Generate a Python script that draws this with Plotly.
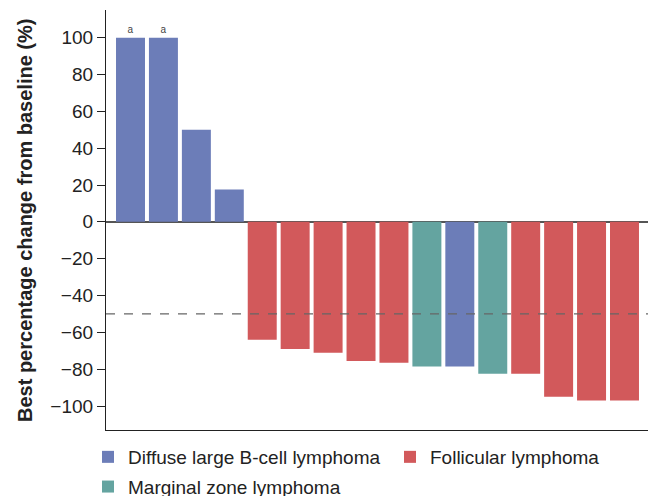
import plotly.graph_objects as go

# Data
patients = list(range(16))
best_change = [100, 100, 50, 17.5, -64, -69, -71, -75.5, -76.5, -78.5, -78.5, -82.5, -82.5, -95, -97, -97]
subtype = ["DLBCL"] * 4 + ["FL"] * 5 + ["MZL", "DLBCL", "MZL"] + ["FL"] * 4
flags = ["a", "a"] + [""] * 14

groups = ["DLBCL", "FL", "MZL"]
group_names = {
    "DLBCL": "Diffuse large B-cell lymphoma",
    "FL": "Follicular lymphoma",
    "MZL": "Marginal zone lymphoma",
}
group_colors = {"DLBCL": "#6C7DB8", "FL": "#D2595B", "MZL": "#64A4A0"}
group_legend = {"DLBCL": "legend", "FL": "legend2", "MZL": "legend"}
y_ticks = [-100, -80, -60, -40, -20, 0, 20, 40, 60, 80, 100]
y_title = "Best percentage change from baseline (%)"
threshold = -50

fig = go.Figure()
for g in groups:
    idx = [i for i, s in enumerate(subtype) if s == g]
    fig.add_trace(go.Bar(
        x=[patients[i] for i in idx],
        y=[best_change[i] for i in idx],
        text=[flags[i] for i in idx],
        textposition="outside",
        outsidetextfont=dict(size=10, color="#444"),
        cliponaxis=False,
        name=group_names[g],
        legend=group_legend[g],
        legendgroup=g,
        marker=dict(color=group_colors[g], line=dict(width=0)),
        width=0.88,
    ))

fig.add_shape(type="line", xref="paper", x0=0, x1=1, yref="y", y0=threshold, y1=threshold,
              line=dict(color="#666", width=1.3, dash="dash"))

# y-axis title as rotated text
fig.add_annotation(text=f"<b>{y_title}</b>", xref="paper", yref="paper",
                   x=(25 - 106) / 542, y=(430 - 221) / 420, textangle=-90,
                   showarrow=False, xanchor="center", yanchor="middle",
                   font=dict(size=20, color="#222"))

legend_common = dict(
    orientation="v", xref="container", yref="container", xanchor="left", yanchor="top",
    font=dict(size=19, color="#222"), itemwidth=30, tracegroupgap=2, traceorder="grouped",
    bgcolor="rgba(0,0,0,0)",
)

fig.update_layout(
    width=655, height=496,
    margin=dict(l=106, r=7, t=10, b=66, autoexpand=False),
    paper_bgcolor="white", plot_bgcolor="white",
    barmode="overlay",
    font=dict(family="Liberation Sans, Arial, sans-serif", color="#222", size=19),
    showlegend=True,
    legend=dict(x=88 / 655, y=1 - 438 / 496, **legend_common),
    legend2=dict(x=390 / 655, y=1 - 438 / 496, **legend_common),
    xaxis=dict(
        range=[-0.744, 15.714], showticklabels=False, ticks="", showgrid=False,
        zeroline=False, showline=True, linecolor="#222", linewidth=1.2, automargin=False,
    ),
    yaxis=dict(
        range=[-113, 115], tickvals=y_ticks, ticks="outside", ticklen=8,
        tickcolor="#222", showgrid=False, showline=True, linecolor="#222", linewidth=1.2,
        zeroline=True, zerolinecolor="#555", zerolinewidth=1.6, automargin=False,
        ticksuffix="\u2009",
        tickfont=dict(size=19, color="#222"),
    ),
)

fig.write_html("out.html", config={"displayModeBar": False},
               post_script="document.body.style.margin='0px';")
